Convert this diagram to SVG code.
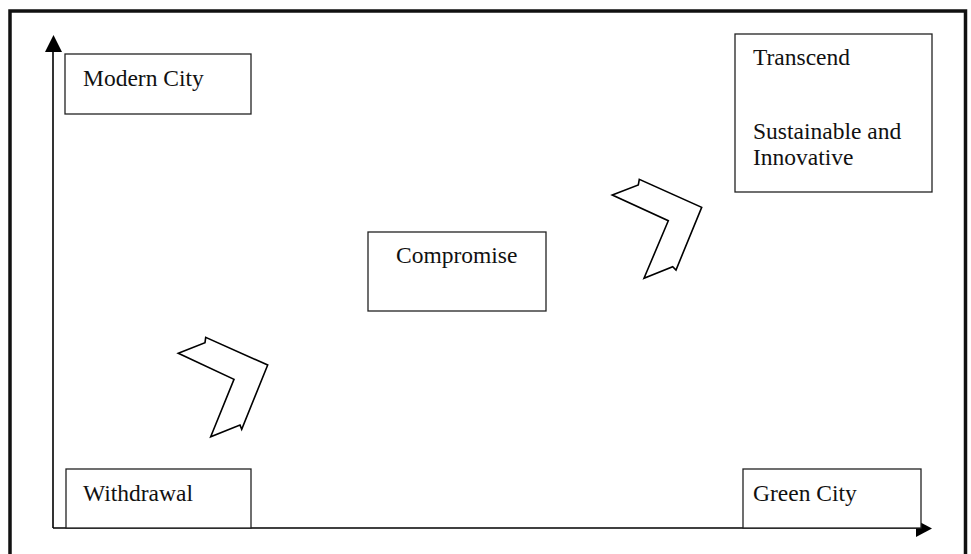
<svg xmlns="http://www.w3.org/2000/svg" width="971" height="554" viewBox="0 0 971 554">
<defs>
<style>
.box{fill:#fff;stroke:#222;stroke-width:1.3}
.lbl{font-family:"Liberation Serif","Times New Roman",serif;font-size:23.5px;fill:#111}
.axis{stroke:#000;stroke-width:1.6;fill:none}
.chev{fill:#fff;stroke:#000;stroke-width:1.6;stroke-linejoin:miter}
</style>
</defs>
<rect width="971" height="554" fill="#fff"/>
<path d="M10,554 V11 H965.5 V554" fill="none" stroke="#111" stroke-width="3.5"/>
<g id="connectors">
<path class="axis" d="M53,528 V52"/>
<path d="M45,52 L53.5,35 L62,52 Z" fill="#000"/>
<path class="axis" d="M53,528 H916"/>
<path d="M916,520 L932,528.5 L916,537 Z" fill="#000"/>
<polygon id="chevron1" class="chev" points="178.3,353.3 205,342.7 205.7,337.3 267.7,365 241.7,429.3 240,425 210.7,436.7 234,379.3"/>
<polygon id="chevron2" class="chev" points="612.3,195 638.3,185 639.3,179.3 701.7,207.3 676,270 672.7,266.7 644,278.3 668.3,220.7"/>
</g>
<g id="modern-city">
<rect class="box" x="65" y="54" width="186" height="60"/>
<text class="lbl" x="83" y="86">Modern City</text>
</g>
<g id="compromise">
<rect class="box" x="368" y="232" width="178" height="79"/>
<text class="lbl" x="396" y="263">Compromise</text>
</g>
<g id="transcend">
<rect class="box" x="735" y="34" width="197" height="158"/>
<text class="lbl" x="753" y="65">Transcend</text>
<text class="lbl" x="753" y="139">Sustainable and</text>
<text class="lbl" x="753" y="165">Innovative</text>
</g>
<g id="withdrawal">
<rect class="box" x="66" y="469" width="185" height="59"/>
<text class="lbl" x="83" y="501">Withdrawal</text>
</g>
<g id="green-city">
<rect class="box" x="743" y="469" width="178" height="59"/>
<text class="lbl" x="753" y="501">Green City</text>
</g>
</svg>
